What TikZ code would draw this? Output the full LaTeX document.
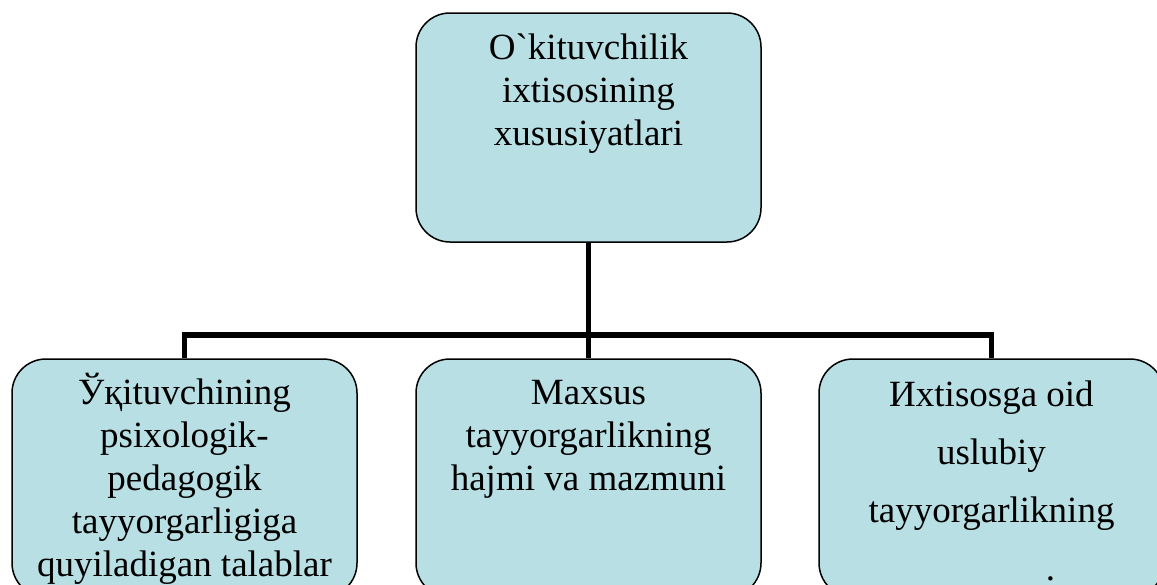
\documentclass[tikz,border=0pt]{standalone}
\usepackage{fontspec}
\setmainfont{Liberation Serif}[Ligatures=TeXOff]
\usetikzlibrary{positioning}
\definecolor{boxfill}{RGB}{184,223,227}
\tikzset{
  box/.style={draw, line width=1.5pt, fill=boxfill, rounded corners=34pt,
    minimum width=345pt, inner sep=0pt},
  txt/.style={align=center, inner sep=0pt, anchor=north,
    font=\fontsize{37}{43}\selectfont},
  conn/.style={line width=5.5pt}
}
\newcommand{\firstline}{\rule{0pt}{32pt}}
\begin{document}
\begin{tikzpicture}[x=1pt,y=-1pt]
  \useasboundingbox (0,0) rectangle (1157,584);
  \clip (0,0) rectangle (1157,584);
  % boxes
  \node[box, minimum height=229pt] (top) at (588.5,127.5) {};
  \node[box, minimum height=238pt] (left) at (184.5,478) {};
  \node[box, minimum height=238pt] (mid) at (588.5,478) {};
  \node[box, minimum height=238pt] (right) at (991.5,478) {};
  % texts
  \node[txt, below=15pt of top.north] (toptxt)
    {\firstline O`kituvchilik\\ixtisosining\\xususiyatlari};
  \node[txt, below=14pt of left.north] (lefttxt)
    {\firstline Ўқituvchining\\psixologik-\\pedagogik\\tayyorgarligiga\\quyiladigan talablar};
  \node[txt, below=14pt of mid.north] (midtxt)
    {\firstline Maxsus\\tayyorgarlikning\\hajmi va mazmuni};
  \node[txt, below=16pt of right.north, font=\fontsize{37}{58}\selectfont] (righttxt)
    {\firstline Иxtisosga oid\\uslubiy\\tayyorgarlikning\\\hspace*{118pt}.};
  % connectors
  \coordinate (bus) at (588.5,335);
  \draw[conn] (top.south) -- (bus);
  \draw[conn] (left.north) |- (bus) -| (right.north);
  \draw[conn] (bus) -- (mid.north);
\end{tikzpicture}
\end{document}
